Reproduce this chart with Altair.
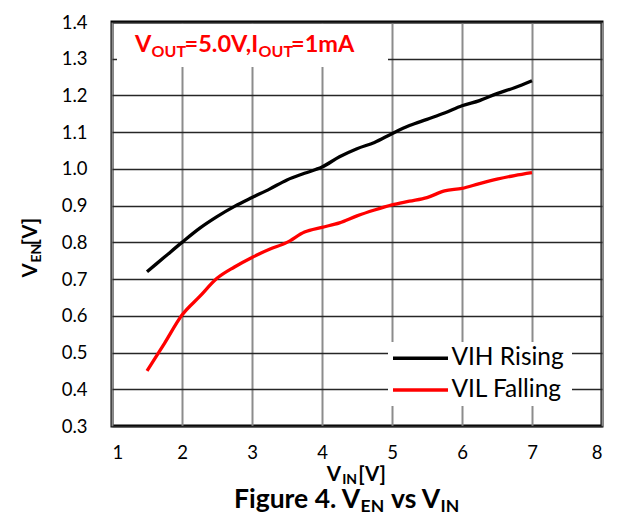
import altair as alt
import pandas as pd

# ---- data ----
vin = [1.5, 1.75, 2.0, 2.25, 2.5, 2.75, 3.0, 3.25, 3.5, 3.75, 4.0, 4.25,
       4.5, 4.75, 5.0, 5.25, 5.5, 5.75, 6.0, 6.25, 6.5, 6.75, 7.0]
vih_rising = [0.72, 0.76, 0.80, 0.838, 0.87, 0.898, 0.922, 0.945, 0.97, 0.988,
              1.005, 1.033, 1.055, 1.072, 1.096, 1.118, 1.135, 1.152, 1.172,
              1.186, 1.205, 1.221, 1.24]
vil_falling = [0.45, 0.525, 0.602, 0.652, 0.702, 0.733, 0.759, 0.781, 0.80,
               0.828, 0.841, 0.853, 0.872, 0.888, 0.902, 0.912, 0.922, 0.94,
               0.947, 0.96, 0.972, 0.982, 0.99]
series_names = ["VIH Rising", "VIL Falling"]
series_colors = ["#000000", "#ff0000"]
x_ticks = [1, 2, 3, 4, 5, 6, 7, 8]
y_ticks = [0.3, 0.4, 0.5, 0.6, 0.7, 0.8, 0.9, 1.0, 1.1, 1.2, 1.3, 1.4]

FONT = "Lato"

n = len(vin)
df = pd.DataFrame({
    "VIN": vin + vin,
    "VEN": vih_rising + vil_falling,
    "series": [series_names[0]] * n + [series_names[1]] * n,
})
one = pd.DataFrame({"k": [0]})

x_enc = alt.X(
    "VIN:Q",
    scale=alt.Scale(domain=[1, 8], nice=False, zero=False),
    axis=alt.Axis(values=x_ticks, title=None, format="d", grid=True,
                  gridColor="#8c8c8c", gridWidth=2, domain=False, ticks=False,
                  tickSize=0, labelPadding=17, labelFontSize=18.5, labelFont=FONT,
                  labelColor="#000000"),
)
y_enc = alt.Y(
    "VEN:Q",
    scale=alt.Scale(domain=[0.3, 1.4], nice=False, zero=False),
    axis=alt.Axis(values=y_ticks, title=None, format=".1f", grid=True,
                  gridColor="#262626", gridWidth=1.3, domain=False, ticks=False,
                  tickSize=0, labelPadding=25, labelFontSize=18.5, labelFont=FONT,
                  labelColor="#000000", labelBaseline="middle"),
)

lines = alt.Chart(df).mark_line(strokeWidth=3.3, interpolate="monotone").encode(
    x=x_enc,
    y=y_enc,
    color=alt.Color("series:N",
                    scale=alt.Scale(domain=series_names, range=series_colors),
                    legend=None),
)


def box(x1, x2, y1, y2):
    return alt.Chart(one).mark_rect(fill="white").encode(
        x=alt.value(x1), x2=alt.value(x2), y=alt.value(y1), y2=alt.value(y2))


def label(text, x, y, size, color="#000000", bold=True, angle=0, align="left"):
    return alt.Chart(one).mark_text(
        text=text, fontSize=size, font=FONT,
        fontWeight="bold" if bold else "normal", color=color,
        align=align, baseline="alphabetic", angle=angle,
    ).encode(x=alt.value(x), y=alt.value(y))


def swatch(x1, x2, y, color):
    return alt.Chart(one).mark_rule(strokeWidth=3.5, color=color).encode(
        x=alt.value(x1), x2=alt.value(x2), y=alt.value(y))


RED = "#ff0000"
layers = [
    box(5, 276, 2, 45),          # annotation background
    box(276, 460, 320, 384),     # legend background
    lines,
    # annotation V_OUT=5.0V,I_OUT=1mA
    label("V", 39.4, 29.7, 23.5, RED, align="right"),
    label("OUT", 39.6, 35.3, 16, RED),
    label("=5.0V,I", 146.2, 29.7, 23.5, RED, align="right"),
    label("OUT", 146.6, 35.3, 16, RED),
    label("=1mA", 179, 29.7, 23.5, RED),
    # legend
    swatch(281, 336, 336.3, series_colors[0]),
    swatch(281, 336, 368, series_colors[1]),
    label(series_names[0], 339.4, 343, 24.5, bold=False),
    label(series_names[1], 339.4, 374.7, 24.5, bold=False),
    # x axis title V_IN[V]
    label("V", 229.0, 458.7, 20.5, align="right"),
    label("IN", 230.2, 461.5, 14),
    label("[V]", 246.3, 458.7, 20.5),
    # y axis title V_EN[V]
    label("V", -75.3, 241.3, 20.5, angle=270, align="right"),
    label("EN", -71.3, 240.5, 14, angle=270),
    label("[V]", -75.3, 223.5, 20.5, angle=270),
    # caption Figure 4. V_EN vs V_IN
    label("Figure 4. V", 248.2, 485.5, 26.5, align="right"),
    label("EN", 248.6, 490, 17.5),
    label("vs V", 328.2, 485.5, 26.5, align="right"),
    label("IN", 328.6, 490, 17.5),
]

chart = alt.layer(*layers).properties(
    width=490,
    height=404,
    padding={"left": 104, "top": 14, "right": 7, "bottom": 90},
    autosize=alt.AutoSizeParams(type="none"),
    background="white",
).configure_view(stroke="#000000", strokeWidth=3)

chart.save("out.html", embed_options={"renderer": "svg", "actions": False})
